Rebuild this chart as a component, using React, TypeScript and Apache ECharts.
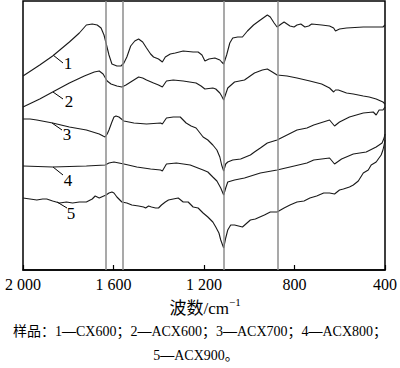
import React, { useEffect, useRef } from "react";
import * as echarts from "echarts";

// FTIR spectra: [wavenumber (cm^-1), transmittance (a.u., offset)]
const curve1: number[][] = [
  [2000, 194], [1926, 205], [1869, 214], [1795, 228], [1751, 237], [1720, 245], [1694, 246], [1672, 245],
  [1655, 242], [1642, 235], [1633, 227], [1620, 215], [1607, 206], [1585, 204], [1567, 204], [1554, 207],
  [1541, 213], [1524, 224], [1506, 229], [1489, 231], [1471, 228], [1454, 222], [1436, 216], [1423, 213],
  [1401, 211], [1384, 208], [1371, 213], [1349, 216], [1327, 217], [1292, 219], [1248, 218], [1226, 218],
  [1209, 215], [1196, 209], [1178, 211], [1152, 212], [1130, 210], [1122, 208], [1113, 206], [1100, 215],
  [1086, 227], [1073, 232], [1051, 233], [1030, 233], [1008, 239], [981, 245], [951, 250], [920, 255],
  [907, 253], [890, 247], [877, 243], [859, 246], [846, 248], [833, 246], [820, 244], [802, 243],
  [789, 245], [772, 246], [754, 243], [737, 244], [724, 246], [680, 245], [645, 244], [627, 242],
  [619, 239], [601, 241], [570, 242], [496, 243], [439, 243], [409, 243], [400, 245],
];
const curve2: number[][] = [
  [2000, 163], [1926, 171], [1869, 178], [1795, 187], [1729, 194], [1685, 198], [1663, 199], [1646, 196],
  [1628, 189], [1611, 186], [1585, 184], [1563, 183], [1545, 185], [1524, 188], [1489, 193], [1471, 192],
  [1454, 190], [1423, 187], [1401, 185], [1384, 183], [1366, 189], [1336, 190], [1292, 189], [1235, 187],
  [1213, 184], [1196, 181], [1161, 182], [1148, 181], [1130, 177], [1122, 174], [1113, 170], [1104, 176],
  [1095, 182], [1065, 188], [1021, 190], [977, 197], [942, 200], [920, 201], [898, 198], [877, 195],
  [833, 194], [789, 192], [732, 189], [680, 186], [645, 182], [627, 178], [619, 180], [606, 180],
  [570, 177], [540, 176], [496, 174], [470, 173], [439, 171], [409, 168], [400, 166],
];
const curve3: number[][] = [
  [2000, 151], [1969, 151], [1939, 150], [1869, 147], [1795, 143], [1720, 140], [1663, 136], [1646, 134],
  [1637, 133], [1628, 136], [1620, 140], [1607, 148], [1598, 153], [1589, 154], [1576, 153], [1554, 149],
  [1510, 147], [1454, 146], [1392, 147], [1384, 146], [1366, 152], [1336, 153], [1305, 153], [1279, 147],
  [1257, 144], [1235, 142], [1204, 133], [1183, 130], [1161, 125], [1143, 120], [1130, 113], [1122, 105],
  [1113, 99], [1104, 106], [1095, 108], [1073, 110], [1038, 111], [995, 115], [977, 118], [951, 122],
  [920, 127], [877, 130], [833, 135], [789, 140], [745, 142], [715, 145], [645, 150], [623, 144],
  [601, 148], [557, 153], [496, 157], [452, 158], [439, 155], [426, 160], [409, 160], [400, 163],
];
const curve4: number[][] = [
  [2000, 104], [1869, 103], [1720, 104], [1637, 105], [1620, 107], [1598, 108], [1576, 107], [1554, 106],
  [1497, 103], [1436, 101], [1392, 100], [1384, 99], [1366, 106], [1322, 107], [1261, 105], [1204, 100],
  [1183, 98], [1161, 93], [1143, 89], [1126, 82], [1113, 75], [1104, 82], [1095, 88], [1065, 90],
  [1021, 92], [951, 97], [877, 100], [820, 103], [745, 107], [715, 110], [645, 112], [623, 106],
  [592, 111], [540, 116], [483, 118], [439, 123], [413, 127], [404, 132], [400, 136],
];
const curve5: number[][] = [
  [2000, 72], [1969, 71], [1939, 70], [1913, 71], [1895, 71], [1869, 69], [1838, 67], [1808, 68],
  [1781, 67], [1751, 68], [1720, 68], [1694, 71], [1681, 74], [1663, 72], [1633, 75], [1620, 77],
  [1607, 78], [1598, 77], [1585, 73], [1563, 68], [1541, 67], [1519, 65], [1489, 64], [1467, 63],
  [1458, 62], [1445, 64], [1432, 63], [1414, 62], [1401, 62], [1388, 65], [1371, 68], [1357, 70],
  [1336, 71], [1314, 72], [1292, 68], [1270, 68], [1248, 63], [1226, 62], [1204, 57], [1183, 53],
  [1161, 48], [1148, 43], [1134, 37], [1126, 30], [1113, 22], [1104, 32], [1095, 40], [1082, 45],
  [1065, 45], [1030, 43], [995, 50], [973, 51], [933, 55], [907, 58], [877, 58], [846, 62],
  [820, 65], [789, 68], [758, 69], [732, 72], [702, 74], [671, 77], [645, 77], [623, 76],
  [601, 80], [584, 81], [557, 83], [540, 85], [518, 89], [496, 97], [474, 100], [461, 105],
  [439, 108], [417, 115], [409, 120], [404, 125], [400, 130],
];
const curves = [curve1, curve2, curve3, curve4, curve5];
const curveNames = ["1", "2", "3", "4", "5"];
const sampleNames = ["CX600", "ACX600", "ACX700", "ACX800", "ACX900"];
const refLines = [1634, 1560, 1114, 874];
const xTicks = [400, 800, 1200, 1600, 2000];
const xAxisName = "波数/cm";
const xAxisSup = "−1";
const captionPrefix = "样品：";

const serif = "'Times New Roman','Liberation Serif','Noto Sans CJK SC',serif";

// annotation positions (label text and leader lines)
const labelPos = [
  { line: [53, 55, 63, 63], text: [68, 63] },
  { line: [53, 92, 63, 99], text: [69, 101] },
  { line: [52, 123, 62, 130], text: [67, 134] },
  { line: [53, 167, 63, 175], text: [68, 180] },
  { line: [57, 202, 67, 208], text: [71, 213] },
];

function fmtTick(v: number): string {
  if (v >= 1000) {
    return `${Math.floor(v / 1000)} ${String(v % 1000).padStart(3, "0")}`;
  }
  return String(v);
}

function captionRich(idx: number[], prefix: string, end: string): string {
  let s = prefix ? `{t|${prefix}}` : "";
  idx.forEach((i, k) => {
    const sep = k < idx.length - 1 || end === "；" ? "；" : end;
    s += `{t|${curveNames[i]}}{d|—}{t|${sampleNames[i]}${sep}}`;
  });
  return s;
}

export default function App() {
  const ref = useRef<HTMLDivElement>(null);
  useEffect(() => {
    if (!ref.current) return;
    const chart = echarts.init(ref.current, undefined, { renderer: "svg" });
    const graphic: any[] = [];
    labelPos.forEach((p, i) => {
      graphic.push({
        type: "line",
        shape: { x1: p.line[0], y1: p.line[1], x2: p.line[2], y2: p.line[3] },
        style: { stroke: "#000", lineWidth: 1 },
      });
      graphic.push({
        type: "text",
        x: p.text[0],
        y: p.text[1],
        style: {
          text: curveNames[i],
          fontSize: 17,
          fontFamily: serif,
          fill: "#000",
          align: "center",
          verticalAlign: "middle",
        },
      });
    });
    const rich = {
      t: { fontSize: 14, fontFamily: serif, fill: "#000" },
      d: { fontSize: 14, fontFamily: serif, fontWeight: "bold", fill: "#000" },
    };
    graphic.push(
      {
        type: "text",
        x: 229,
        y: 308,
        style: { text: xAxisName, fontSize: 17, fontFamily: serif, fill: "#000", align: "right", verticalAlign: "middle" },
      },
      {
        type: "text",
        x: 229,
        y: 302,
        style: { text: xAxisSup, fontSize: 11, fontFamily: serif, fill: "#000", align: "left", verticalAlign: "middle" },
      },
      {
        type: "text",
        x: 200,
        y: 331,
        style: { text: captionRich([0, 1, 2, 3], captionPrefix, "；"), rich, align: "center", verticalAlign: "middle" },
      },
      {
        type: "text",
        x: 196,
        y: 355,
        style: { text: captionRich([4], "", "。"), rich, align: "center", verticalAlign: "middle" },
      }
    );

    chart.setOption({
      animation: false,
      grid: {
        left: 23,
        right: 11,
        top: 1,
        bottom: 98,
        show: true,
        borderColor: "#000",
        borderWidth: 1.5,
        backgroundColor: "transparent",
      },
      xAxis: {
        type: "value",
        min: xTicks[0],
        max: xTicks[xTicks.length - 1],
        interval: 400,
        inverse: true,
        axisLine: { show: true, lineStyle: { color: "#000", width: 1.5 } },
        axisTick: { show: true, inside: true, length: 5, lineStyle: { color: "#000", width: 1.2 } },
        axisLabel: { margin: 6, color: "#000", fontSize: 16, fontFamily: serif, formatter: fmtTick },
        splitLine: { show: false },
      },
      yAxis: { type: "value", min: 0, max: 269, show: false },
      graphic,
      series: curves.map((d, i) => ({
        type: "line",
        name: curveNames[i],
        data: d,
        showSymbol: false,
        symbol: "none",
        lineStyle: { color: "#1a1a1a", width: 1.1 },
        silent: true,
        markLine:
          i === 0
            ? {
                silent: true,
                symbol: "none",
                label: { show: false },
                lineStyle: { color: "#8c8c8c", width: 1.5, type: "solid" },
                data: refLines.map((x) => ({ xAxis: x })),
              }
            : undefined,
      })),
    });
    return () => chart.dispose();
  }, []);
  return (
    <div
      ref={ref}
      style={{ position: "fixed", left: 0, top: 0, width: 400, height: 368, background: "#fff" }}
    />
  );
}
